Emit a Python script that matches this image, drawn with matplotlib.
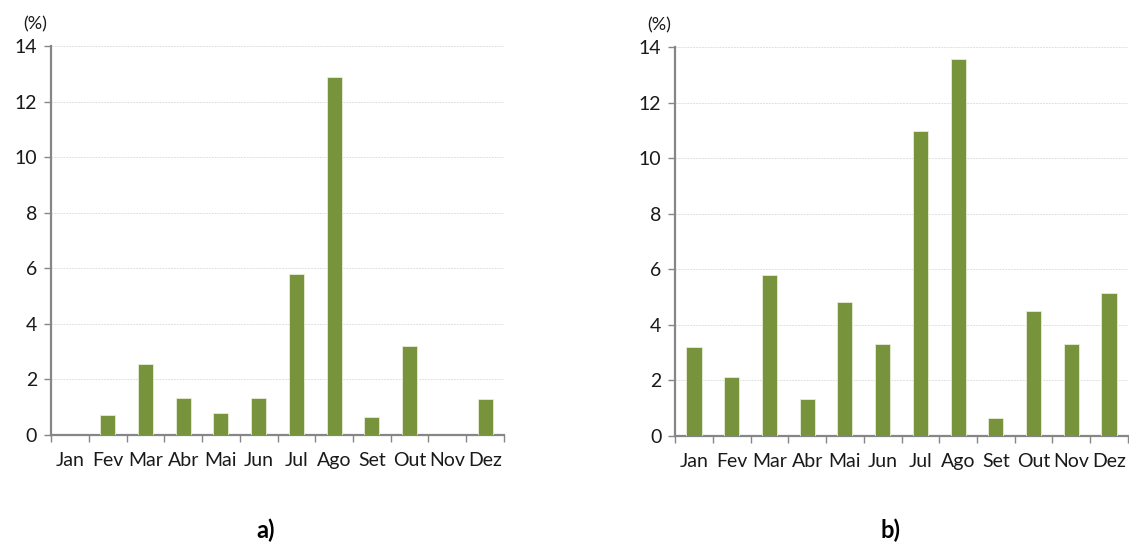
import matplotlib
matplotlib.use("Agg")
import matplotlib.pyplot as plt
from matplotlib.ticker import FixedLocator

months = ["Jan", "Fev", "Mar", "Abr", "Mai", "Jun", "Jul", "Ago", "Set", "Out", "Nov", "Dez"]
values_a = [0.0, 0.71, 2.57, 1.33, 0.79, 1.33, 5.79, 12.89, 0.66, 3.21, 0.0, 1.28]
values_b = [3.21, 2.11, 5.79, 1.32, 4.83, 3.32, 10.97, 13.55, 0.65, 4.51, 3.32, 5.14]
panel_labels = ["a)", "b)"]
yticks = [0, 2, 4, 6, 8, 10, 12, 14]

plt.rcParams["font.family"] = ["Lato", "DejaVu Sans"]

BAR = "#77933C"
AXIS = "#868686"
GRID = "#e0e0e0"
TXT = "#1a1a1a"

fig = plt.figure(figsize=(11.29, 5.42), dpi=100)
ax_a = fig.add_axes([0.0452, 0.1974, 0.4012, 0.7176])
ax_b = fig.add_axes([0.598, 0.1956, 0.401, 0.7177])

for ax, vals, lab, lx in [(ax_a, values_a, panel_labels[0], 0.235),
                          (ax_b, values_b, panel_labels[1], 0.789)]:
    x = list(range(len(months)))
    ax.bar(x, vals, width=0.4, color=BAR, edgecolor="#e8eed8", linewidth=0.6, zorder=3)
    ax.set_xlim(-0.5, len(months) - 0.5)
    ax.set_ylim(0, 14)
    ax.set_yticks(yticks)
    ax.set_yticklabels([str(t) for t in yticks], fontsize=14, color=TXT)
    ax.yaxis.grid(True, color=GRID, linestyle=(0, (2, 1)), linewidth=0.7, zorder=0)
    ax.tick_params(axis="y", length=5, width=1, color=AXIS, pad=5)

    # category boundaries as major ticks, labels at category centres
    ax.xaxis.set_major_locator(FixedLocator([i - 0.5 for i in range(len(months) + 1)]))
    ax.xaxis.set_minor_locator(FixedLocator(x))
    ax.set_xticklabels([""] * (len(months) + 1))
    ax.set_xticklabels(months, minor=True, fontsize=14, color=TXT)
    ax.tick_params(axis="x", which="major", direction="out", length=5, width=1, color=AXIS)
    ax.tick_params(axis="x", which="minor", length=0, pad=12)

    for s in ("top", "right"):
        ax.spines[s].set_visible(False)
    for s in ("left", "bottom"):
        ax.spines[s].set_color(AXIS)
        ax.spines[s].set_linewidth(1.6)

    ax.text(-0.035, 1.035, "(%)", transform=ax.transAxes, fontsize=13,
            ha="center", va="bottom", color=TXT)
    fig.text(lx, 0.022, lab, fontsize=17, fontweight="bold", ha="center", va="center")

fig.savefig("out.png", dpi=100)
